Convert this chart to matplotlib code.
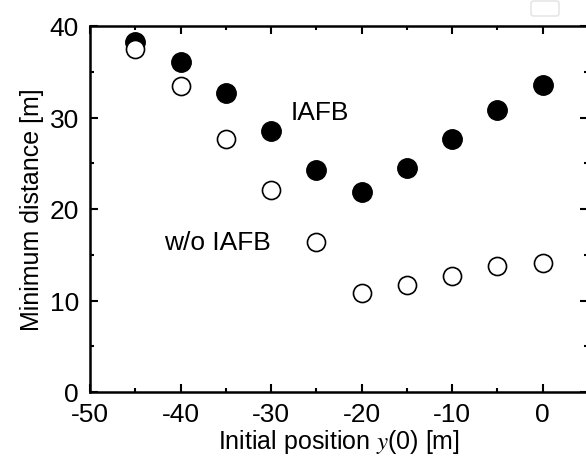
import matplotlib
matplotlib.use("Agg")
import matplotlib.pyplot as plt
from matplotlib.patches import FancyBboxPatch
from matplotlib.ticker import MultipleLocator

plt.rcParams["font.family"] = ["Liberation Sans", "DejaVu Sans"]
plt.rcParams["mathtext.fontset"] = "stix"
plt.rcParams["axes.unicode_minus"] = False

# Initial position y(0) [m]
positions = [-45, -40, -35, -30, -25, -20, -15, -10, -5, 0]
# Minimum distance with IAFB (filled) and without (open)
dist_iafb = [38.2, 36.1, 32.7, 28.5, 24.3, 21.9, 24.5, 27.6, 30.8, 33.5]
dist_no_iafb = [37.5, 33.4, 27.7, 22.1, 16.4, 10.8, 11.7, 12.7, 13.8, 14.1]

fig = plt.figure(figsize=(5.86, 4.60), dpi=100)
ax = fig.add_axes([90 / 586, 1 - 393 / 460, 498 / 586, 366 / 460])

ax.plot(positions, dist_iafb, "o", color="black", markersize=14, linestyle="none")
ax.plot(positions, dist_no_iafb, "o", markerfacecolor="white", markeredgecolor="black",
        markeredgewidth=1.2, markersize=13, linestyle="none")

ax.text(-27.8, 30.6, "IAFB", fontsize=19, va="center", ha="left")
ax.text(-41.8, 16.4, "w/o IAFB", fontsize=19, va="center", ha="left")

ax.set_xlim(-50, 5)
ax.set_ylim(0, 40)
ax.xaxis.set_major_locator(MultipleLocator(10))
ax.xaxis.set_minor_locator(MultipleLocator(5))
ax.yaxis.set_major_locator(MultipleLocator(10))
ax.yaxis.set_minor_locator(MultipleLocator(5))
ax.tick_params(which="both", direction="in", top=True, right=True, labelsize=19, width=1.5)
ax.tick_params(which="major", length=6)
ax.tick_params(which="minor", length=3)
ax.tick_params(axis="x", pad=7)
ax.tick_params(axis="y", pad=8)
for sp in ax.spines.values():
    sp.set_linewidth(1.8)

ax.set_xlabel("Initial position $y$(0) [m]", fontsize=18, labelpad=1)
ax.set_ylabel("Minimum distance [m]", fontsize=18, labelpad=4)

# faint empty box at the top right corner
fig.patches.append(FancyBboxPatch((531 / 586, 1 - 17 / 460), 28 / 586, 15 / 460,
                                  boxstyle="round,pad=0,rounding_size=0.005",
                                  transform=fig.transFigure, facecolor="white",
                                  edgecolor="#e6e6e6", linewidth=1.2))

fig.savefig("out.png", dpi=100)
